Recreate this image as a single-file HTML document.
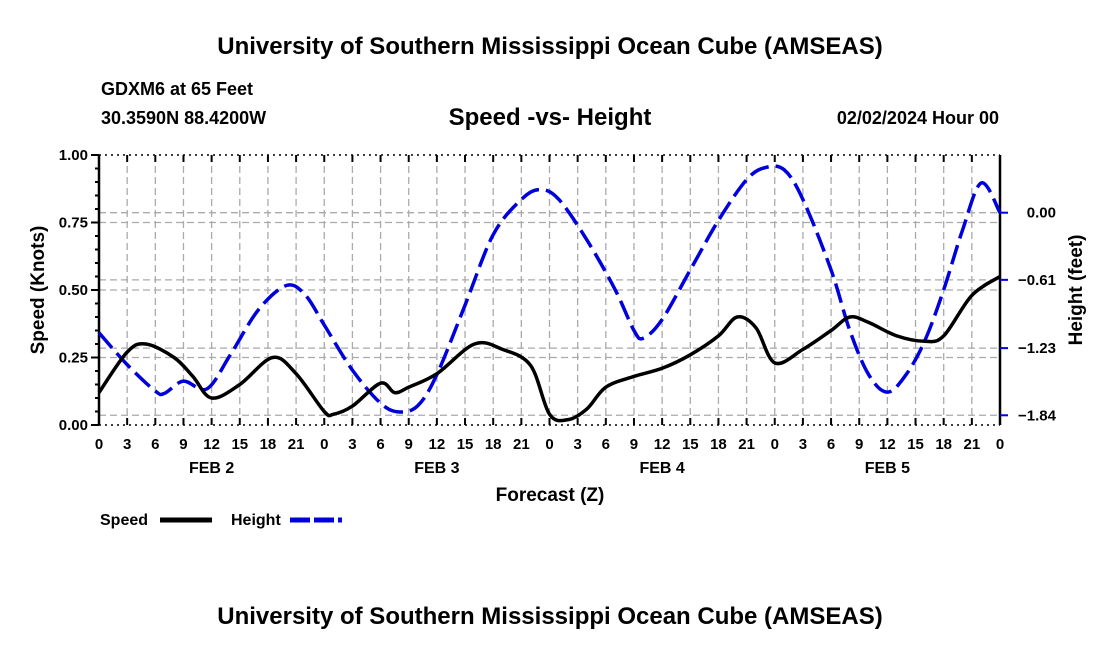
<!DOCTYPE html>
<html><head><meta charset="utf-8"><style>
body{margin:0;background:#fff;width:1100px;height:650px;overflow:hidden}
svg text{font-family:"Liberation Sans",Arial,sans-serif;font-weight:bold;fill:#000}
</style></head><body>
<svg id="chart" width="1100" height="650" xmlns="http://www.w3.org/2000/svg">
<text x="550" y="54" font-size="24" text-anchor="middle">University of Southern Mississippi Ocean Cube (AMSEAS)</text>
<text x="101" y="95" font-size="18">GDXM6 at 65 Feet</text>
<text x="101" y="124" font-size="18">30.3590N  88.4200W</text>
<text x="550" y="125" font-size="24" text-anchor="middle">Speed -vs- Height</text>
<text x="999" y="124" font-size="18" text-anchor="end">02/02/2024 Hour 00</text>
<g id="grid"></g><g id="axes"></g><g id="series"></g>
<text x="550" y="501" font-size="19" text-anchor="middle">Forecast (Z)</text>
<text transform="translate(44,290) rotate(-90)" font-size="19" text-anchor="middle">Speed (Knots)</text>
<text transform="translate(1082,290) rotate(-90)" font-size="19" text-anchor="middle">Height (feet)</text>
<g>
<text x="100" y="525" font-size="16">Speed</text>
<line x1="160" y1="520" x2="212" y2="520" stroke="#000" stroke-width="5"/>
<text x="231" y="525" font-size="16">Height</text>
<line x1="290" y1="520" x2="342" y2="520" stroke="#0000dd" stroke-width="5" stroke-dasharray="20,4"/>
</g>
<text x="550" y="624" font-size="24" text-anchor="middle">University of Southern Mississippi Ocean Cube (AMSEAS)</text>
</svg>
<script>
const speedHours=[0,3,5,8,10,12,15,18.5,21,24,25,27,30,31.5,33,36,40,43,46,48,50,52,54,57,60,63,66,68,70,72,75,78,80,82,85,88,90,93,96];
const speedValues=[0.12,0.27,0.30,0.25,0.18,0.10,0.15,0.25,0.19,0.05,0.04,0.07,0.155,0.12,0.14,0.19,0.30,0.28,0.22,0.04,0.02,0.06,0.14,0.18,0.21,0.26,0.33,0.40,0.36,0.23,0.28,0.35,0.40,0.38,0.33,0.31,0.33,0.48,0.55];
const heightHours=[0,3,6,7,9,11.5,14,17,20,22,24,27,30,32,34,36,39,42,45,47,49,52,55,57,58,60,63,66,69,71,73,75,78,80,82,84,86,88,90,92,94,96];
const heightValues=[-1.09,-1.38,-1.62,-1.64,-1.53,-1.60,-1.29,-0.88,-0.66,-0.75,-1.02,-1.43,-1.73,-1.81,-1.75,-1.47,-0.84,-0.20,0.12,0.21,0.12,-0.25,-0.70,-1.07,-1.14,-0.97,-0.52,-0.07,0.30,0.41,0.39,0.12,-0.52,-1.07,-1.47,-1.63,-1.47,-1.16,-0.70,-0.16,0.27,0.00];
const xTickLabels=["0","3","6","9","12","15","18","21"];
const dayLabels=["FEB 2","FEB 3","FEB 4","FEB 5"];
const leftTicks=[0,0.25,0.5,0.75,1.0];
const rightTicks=[0.00,-0.61,-1.23,-1.84];

const X0=99,X1=1000,Y0=425,Y1=155;
const xs=h=>X0+h*(X1-X0)/96;
const ysL=v=>Y0-v*(Y0-Y1);
const ysR=v=>212.7-v*110.1;
const NS="http://www.w3.org/2000/svg";
function mk(tag,attrs,parent){const e=document.createElementNS(NS,tag);for(const k in attrs)e.setAttribute(k,attrs[k]);document.getElementById(parent).appendChild(e);return e;}
for(let h=3;h<96;h+=3){const g=mk('line',{x1:xs(h),x2:xs(h),y1:Y1,y2:Y0,stroke:'#aaa','stroke-width':1.3,'stroke-dasharray':'7,4'},'grid');

}
leftTicks.slice(1,4).forEach(v=>{const g=mk('line',{x1:X0,x2:X1,y1:ysL(v),y2:ysL(v),stroke:'#aaa','stroke-width':1.3,'stroke-dasharray':'7,4'},'grid');

});
rightTicks.forEach(v=>{const g=mk('line',{x1:X0,x2:X1,y1:ysR(v),y2:ysR(v),stroke:'#aaa','stroke-width':1.3,'stroke-dasharray':'7,4'},'grid');

});
[[X0,Y1,X0,Y0],[X1,Y1,X1,Y0]].forEach(a=>{const l=mk('line',{x1:a[0],y1:a[1],x2:a[2],y2:a[3],stroke:'#000','stroke-width':2.5},'axes');

});
[Y1,Y0].forEach(y=>{const l=mk('line',{x1:X0,x2:X1,y1:y,y2:y,stroke:'#000','stroke-width':1.5,'stroke-dasharray':'2,4'},'axes');

});
for(let h=0;h<=96;h+=3){[[Y0,Y0-7],[Y1,Y1+7]].forEach(p=>{const t=mk('line',{x1:xs(h),x2:xs(h),y1:p[0],y2:p[1],stroke:'#000','stroke-width':2},'axes');

});
const lab=h===96?"0":xTickLabels[(h%24)/3];
const t=mk('text',{x:xs(h),y:449,'font-size':15,'text-anchor':'middle'},'axes');t.textContent=lab;

}
dayLabels.forEach((d,i)=>{const t=mk('text',{x:xs(12+24*i),y:473,'font-size':16,'text-anchor':'middle'},'axes');t.textContent=d;

});
for(let v=0;v<=1.0001;v+=0.05){const big=Math.abs(v*4-Math.round(v*4))<1e-6;const t=mk('line',{x1:X0,x2:X0-(big?8:4),y1:ysL(v),y2:ysL(v),stroke:'#000','stroke-width':2},'axes');

}
leftTicks.forEach(v=>{const t=mk('text',{x:88,y:ysL(v)+5,'font-size':15,'text-anchor':'end'},'axes');t.textContent=v.toFixed(2);

});
rightTicks.forEach(v=>{const l=mk('line',{x1:X1,x2:X1+8,y1:ysR(v),y2:ysR(v),stroke:'#0000dd','stroke-width':2},'axes');


const t=mk('text',{x:1056,y:ysR(v)+5,'font-size':15,'text-anchor':'end'},'axes');t.textContent=(v===0?"0.00":"\u2212"+Math.abs(v).toFixed(2));

});
function smooth(pts){let d=`M${pts[0][0]},${pts[0][1]}`;for(let i=0;i<pts.length-1;i++){const p0=pts[Math.max(0,i-1)],p1=pts[i],p2=pts[i+1],p3=pts[Math.min(pts.length-1,i+2)];
const c1=[p1[0]+(p2[0]-p0[0])/6,p1[1]+(p2[1]-p0[1])/6],c2=[p2[0]-(p3[0]-p1[0])/6,p2[1]-(p3[1]-p1[1])/6];d+=` C${c1[0]},${c1[1]} ${c2[0]},${c2[1]} ${p2[0]},${p2[1]}`;}return d;}
const hp=mk('path',{d:smooth(heightHours.map((h,i)=>[xs(h),ysR(heightValues[i])])),fill:'none',stroke:'#0000dd','stroke-width':3.5,'stroke-dasharray':'20,7'},'series');


const sp=mk('path',{d:smooth(speedHours.map((h,i)=>[xs(h),ysL(speedValues[i])])),fill:'none',stroke:'#000','stroke-width':3.5},'series');


</script>
</body></html>
